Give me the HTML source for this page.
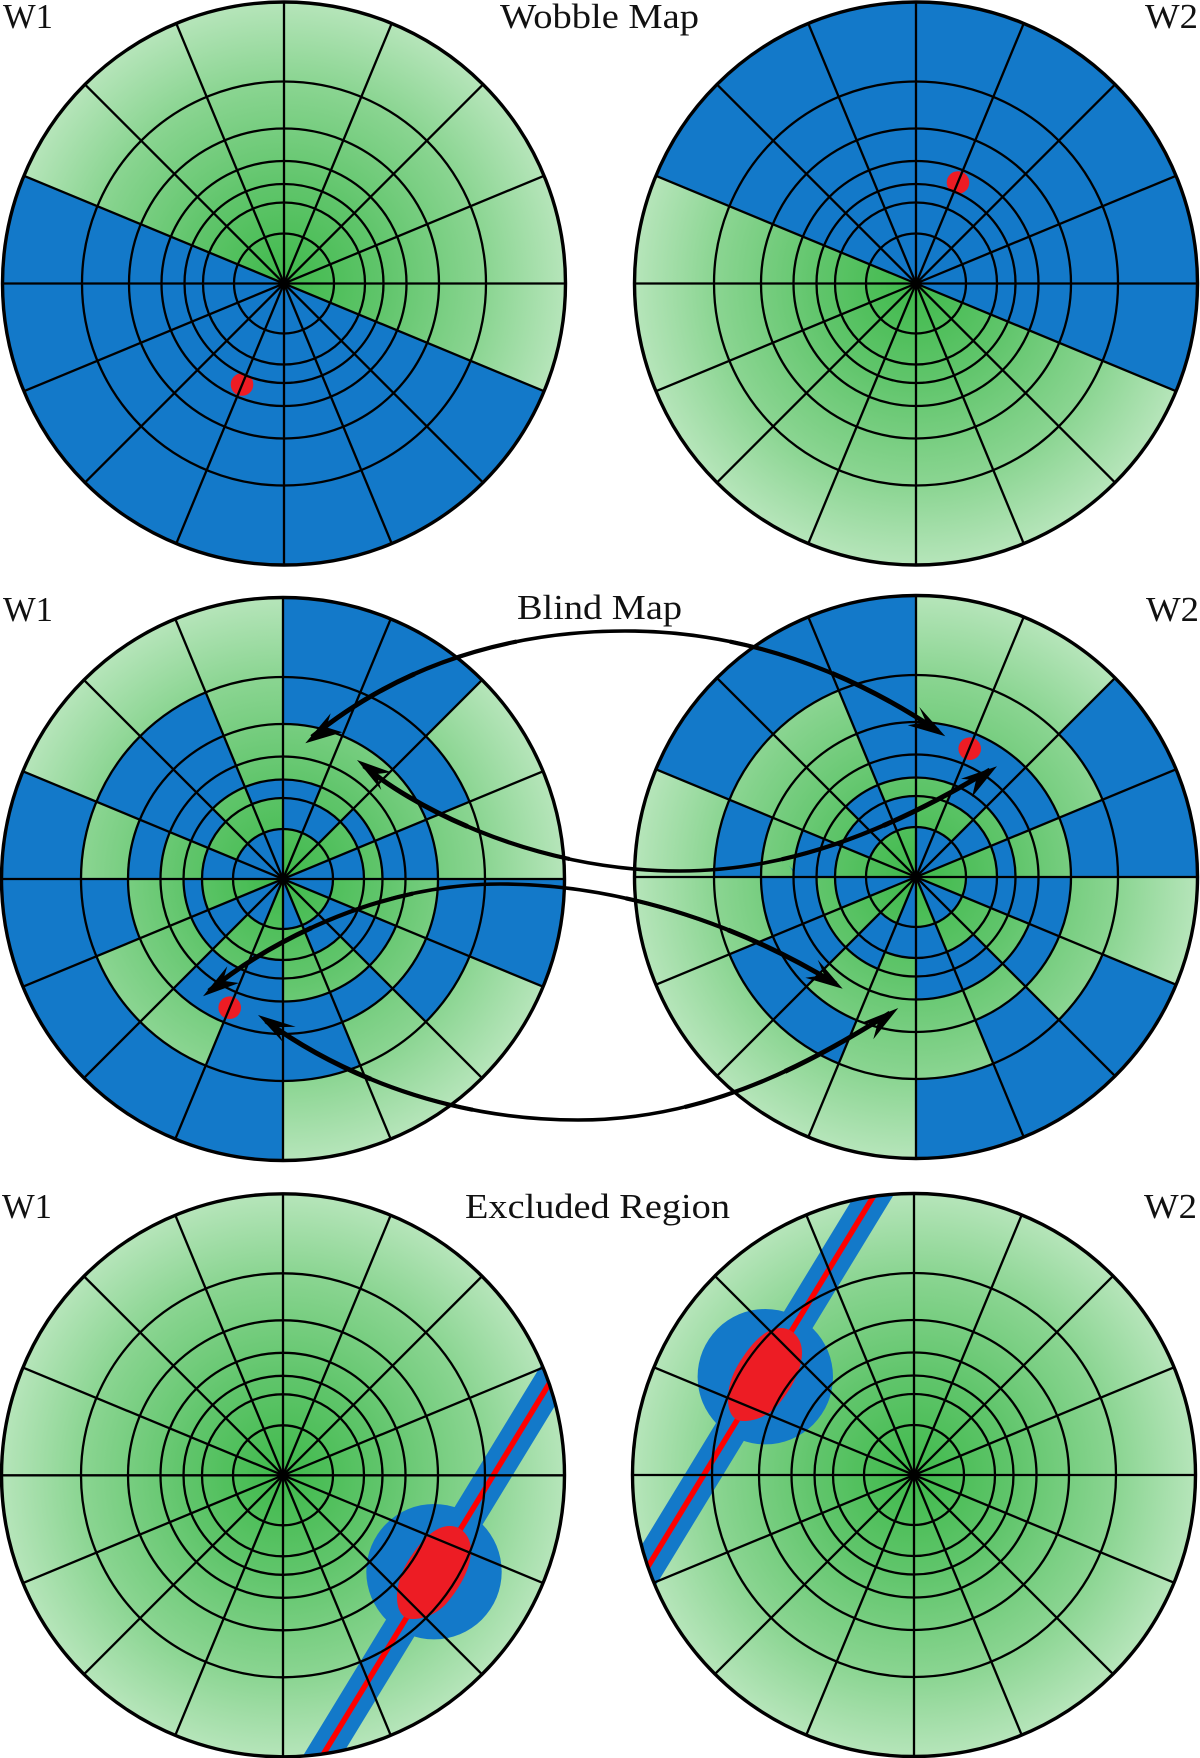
<!DOCTYPE html>
<html>
<head>
<meta charset="utf-8">
<style>
html,body{margin:0;padding:0;background:#fff}
svg{display:block}
text{font-family:"Liberation Serif",serif;font-size:35px;fill:#111}
.b{fill:none;stroke:#1379c9}
</style>
</head>
<body>
<svg width="1200" height="1758" viewBox="0 0 1200 1758" xmlns="http://www.w3.org/2000/svg">
<defs>
<radialGradient id="g">
<stop offset="0" stop-color="#3fb94b"/>
<stop offset="0.35" stop-color="#60c56b"/>
<stop offset="0.72" stop-color="#8bd592"/>
<stop offset="1" stop-color="#b6e5ba"/>
</radialGradient>
<circle id="disc" r="281.5" fill="url(#g)"/>
<g id="grid" fill="none" stroke="#000" stroke-width="2.3">
<circle r="50"/><circle r="81"/><circle r="99.5"/><circle r="122.5"/><circle r="155"/><circle r="202"/>
<line x1="-281.5" y1="0" x2="281.5" y2="0"/>
<line x1="0" y1="-281.5" x2="0" y2="281.5"/>
<line x1="-260.07" y1="-107.73" x2="260.07" y2="107.73"/>
<line x1="-260.07" y1="107.73" x2="260.07" y2="-107.73"/>
<line x1="-199.05" y1="-199.05" x2="199.05" y2="199.05"/>
<line x1="-199.05" y1="199.05" x2="199.05" y2="-199.05"/>
<line x1="-107.73" y1="-260.07" x2="107.73" y2="260.07"/>
<line x1="-107.73" y1="260.07" x2="107.73" y2="-260.07"/>
<circle r="281.5" stroke-width="3.4"/>
<circle r="5" fill="#000" stroke="none"/>
</g>
<path id="a1" d="M312,737 C400,665 510,631 625,631 C735,631 840,665 938,731"/>
<path id="a2" d="M364,766 C420,812 540,871 680,871 C790,871 890,830 990,770"/>
<path id="a3" d="M209,991 C265,945 375,884 500,884 C620,884 740,925 836,984"/>
<path id="a4" d="M266,1021 C340,1075 450,1120 578,1120 C700,1120 800,1070 890,1013"/>
<clipPath id="cBL"><circle cx="283" cy="1475.3" r="281.5"/></clipPath>
<clipPath id="cBR"><circle cx="914" cy="1475" r="281.5"/></clipPath>
</defs>

<!-- Wobble Map -->
<g transform="translate(284,283.5)">
<use href="#disc"/>
<circle class="b" r="140.75" stroke-width="281.5" pathLength="16" stroke-dasharray="8 8" stroke-dashoffset="-1"/>
<circle cx="-42" cy="101" r="11.3" fill="#ed1c24"/>
<use href="#grid"/>
</g>
<g transform="translate(916,283.5)">
<use href="#disc"/>
<circle class="b" r="140.75" stroke-width="281.5" pathLength="16" stroke-dasharray="8 8" stroke-dashoffset="-9"/>
<circle cx="42" cy="-101" r="11.3" fill="#ed1c24"/>
<use href="#grid"/>
</g>

<!-- Blind Map left -->
<g transform="translate(283,879)">
<use href="#disc"/>
<circle class="b" pathLength="16" r="25" stroke-width="50" stroke-dasharray="1 2 1 1 2 1 4 3 1 0"/>
<circle class="b" pathLength="16" r="65.5" stroke-width="31" stroke-dasharray="0 1 2 3 1 1 1 3 2 1 1 0"/>
<circle class="b" pathLength="16" r="90.25" stroke-width="18.5" stroke-dasharray="0 1 1 2 1 1 2 1 1 1 2 1 1 1"/>
<circle class="b" pathLength="16" r="111" stroke-width="23" stroke-dasharray="0 1 1 2 2 3 2 4 1 0"/>
<circle class="b" pathLength="16" r="138.75" stroke-width="32.5" stroke-dasharray="0 2 4 2 3 4 1 0"/>
<circle class="b" pathLength="16" r="178.5" stroke-width="47" stroke-dasharray="2 1 2 2 1 1 2 1 3 1"/>
<circle class="b" pathLength="16" r="241.75" stroke-width="79.5" stroke-dasharray="1 3 5 3 2 2"/>
<circle cx="-53.3" cy="128.7" r="11.3" fill="#ed1c24"/>
<use href="#grid"/>
</g>
<!-- Blind Map right -->
<g transform="translate(916,877)">
<use href="#disc"/>
<circle class="b" pathLength="16" r="25" stroke-width="50" stroke-dasharray="0 1 2 1 1 2 1 4 3 1"/>
<circle class="b" pathLength="16" r="65.5" stroke-width="31" stroke-dasharray="1 2 3 1 1 1 3 2 1 1"/>
<circle class="b" pathLength="16" r="90.25" stroke-width="18.5" stroke-dasharray="1 1 2 1 1 2 1 1 1 2 1 1 1 0"/>
<circle class="b" pathLength="16" r="111" stroke-width="23" stroke-dasharray="1 1 2 2 3 2 4 1"/>
<circle class="b" pathLength="16" r="138.75" stroke-width="32.5" stroke-dasharray="2 4 2 3 4 1"/>
<circle class="b" pathLength="16" r="178.5" stroke-width="47" stroke-dasharray="0 2 1 2 2 1 1 2 0.99 3.01 1 0"/>
<circle class="b" pathLength="16" r="241.75" stroke-width="79.5" stroke-dasharray="0 1 3 5 3 2 2 0"/>
<circle cx="53.7" cy="-128.3" r="11.3" fill="#ed1c24"/>
<use href="#grid"/>
</g>

<!-- Arrows -->
<g fill="none" stroke="#000" stroke-width="3.6">
<use href="#a1"/><use href="#a2"/><use href="#a3"/><use href="#a4"/>
</g>
<g fill="none" stroke="#000" stroke-width="4.2">
<path pathLength="100" stroke-dasharray="34 32 34" d="M312,737 C400,665 510,631 625,631 C735,631 840,665 938,731"/>
<path pathLength="100" stroke-dasharray="34 32 34" d="M364,766 C420,812 540,871 680,871 C790,871 890,830 990,770"/>
<path pathLength="100" stroke-dasharray="34 32 34" d="M209,991 C265,945 375,884 500,884 C620,884 740,925 836,984"/>
<path pathLength="100" stroke-dasharray="34 32 34" d="M266,1021 C340,1075 450,1120 578,1120 C700,1120 800,1070 890,1013"/>
</g>
<g fill="none" stroke="#000" stroke-width="4.9">
<path pathLength="100" stroke-dasharray="18 64 18" d="M312,737 C400,665 510,631 625,631 C735,631 840,665 938,731"/>
<path pathLength="100" stroke-dasharray="18 64 18" d="M364,766 C420,812 540,871 680,871 C790,871 890,830 990,770"/>
<path pathLength="100" stroke-dasharray="18 64 18" d="M209,991 C265,945 375,884 500,884 C620,884 740,925 836,984"/>
<path pathLength="100" stroke-dasharray="18 64 18" d="M266,1021 C340,1075 450,1120 578,1120 C700,1120 800,1070 890,1013"/>
</g>
<g fill="#000">
<polygon points="305.3,743.3 330.7,713.3 326.3,727.3 342.3,732.3"/>
<polygon points="945.3,736.3 919.3,707 926,722 907.7,725.3"/>
<polygon points="357,760 391.3,772.3 376.3,774 381.3,790"/>
<polygon points="997,766.3 961,778.7 976,780.3 972,797"/>
<polygon points="203,996.3 227.3,966.3 223,980.7 239,983"/>
<polygon points="842.7,988.7 817.7,959.7 824.3,975.3 805.3,977.7"/>
<polygon points="258,1015 295.7,1026.7 276.3,1027.3 283,1042.3"/>
<polygon points="898.3,1008 861,1023 877.7,1023 873.3,1039.3"/>
</g>

<!-- Excluded Region left -->
<g transform="translate(283,1475.3)"><use href="#disc"/></g>
<g clip-path="url(#cBL)">
<line x1="593" y1="1311.7" x2="302.7" y2="1788" stroke="#1379c9" stroke-width="33"/>
<circle cx="434" cy="1571.7" r="67.7" fill="#1379c9"/>
<line x1="593" y1="1311.7" x2="302.7" y2="1788" stroke="#ff0000" stroke-width="5.5"/>
<path d="M450,1526 C462,1526 471,1537 471,1550 C471,1570 458,1590 446,1604 C436,1614 425,1619 412,1619 C402,1619 397,1610 397,1597 C397,1580 405,1565 412,1555 C422,1540 435,1526 450,1526Z" fill="#ed1c24"/>
</g>
<g transform="translate(283,1475.3)"><use href="#grid"/></g>

<!-- Excluded Region right -->
<g transform="translate(914,1475)"><use href="#disc"/></g>
<g clip-path="url(#cBR)">
<line x1="895.6" y1="1160" x2="605.3" y2="1636.6" stroke="#1379c9" stroke-width="33"/>
<circle cx="765.3" cy="1376.7" r="67.7" fill="#1379c9"/>
<line x1="895.6" y1="1160" x2="605.3" y2="1636.6" stroke="#ff0000" stroke-width="5.5"/>
<path transform="translate(331,-198)" d="M450,1526 C462,1526 471,1537 471,1550 C471,1570 458,1590 446,1604 C436,1614 425,1619 412,1619 C402,1619 397,1610 397,1597 C397,1580 405,1565 412,1555 C422,1540 435,1526 450,1526Z" fill="#ed1c24"/>
</g>
<g transform="translate(914,1475)"><use href="#grid"/></g>

<!-- Labels -->
<text x="3" y="28" textLength="50" lengthAdjust="spacingAndGlyphs">W1</text>
<text x="500" y="28" textLength="199" lengthAdjust="spacingAndGlyphs">Wobble Map</text>
<text x="1145" y="28" textLength="53" lengthAdjust="spacingAndGlyphs">W2</text>
<text x="3" y="621" textLength="50" lengthAdjust="spacingAndGlyphs">W1</text>
<text x="517" y="619" textLength="165" lengthAdjust="spacingAndGlyphs">Blind Map</text>
<text x="1146" y="621" textLength="53" lengthAdjust="spacingAndGlyphs">W2</text>
<text x="2" y="1218" textLength="50" lengthAdjust="spacingAndGlyphs">W1</text>
<text x="465" y="1218" textLength="265" lengthAdjust="spacingAndGlyphs">Excluded Region</text>
<text x="1144" y="1218" textLength="53" lengthAdjust="spacingAndGlyphs">W2</text>
</svg>
</body>
</html>
